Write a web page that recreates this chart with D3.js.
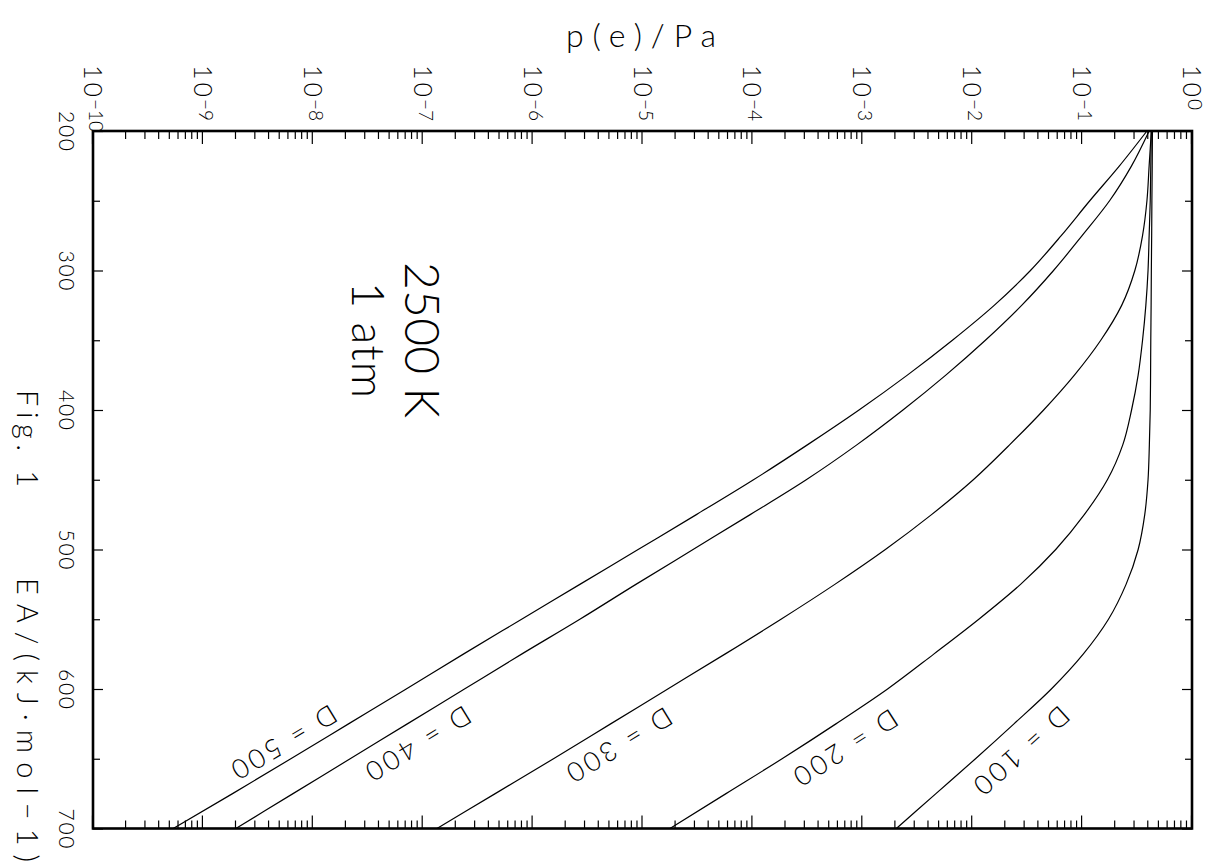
<!DOCTYPE html>
<html>
<head>
<meta charset="utf-8">
<script src="https://cdn.jsdelivr.net/npm/d3@7"></script>
<style>
  body { margin: 0; background: #fff; }
  svg { display: block; }
  text { font-family: Lato, "DejaVu Sans", sans-serif; font-weight: 300; fill: #000; }
</style>
</head>
<body>
<svg id="chart" width="1215" height="866"></svg>
<script>
// values: EA in kJ/mol, log10 of p(e)/Pa
var eaValues = [200,225,250,275,300,325,350,375,400,425,450,475,500,525,550,575,600,625,650,675,700];
var logP100 = [-0.36,-0.362,-0.365,-0.367,-0.37,-0.372,-0.375,-0.377,-0.38,-0.388,-0.40,-0.43,-0.49,-0.60,-0.76,-0.99,-1.28,-1.62,-1.97,-2.33,-2.69];
var logP200 = [-0.37,-0.375,-0.38,-0.39,-0.40,-0.42,-0.45,-0.49,-0.55,-0.63,-0.77,-0.98,-1.24,-1.56,-1.94,-2.35,-2.77,-3.24,-3.73,-4.24,-4.75];
var logP300 = [-0.37,-0.39,-0.41,-0.45,-0.52,-0.64,-0.83,-1.07,-1.35,-1.66,-1.99,-2.37,-2.79,-3.25,-3.74,-4.25,-4.77,-5.29,-5.81,-6.34,-6.87];
var logP400 = [-0.39,-0.55,-0.75,-1.00,-1.26,-1.55,-1.88,-2.24,-2.63,-3.05,-3.51,-4.02,-4.54,-5.06,-5.57,-6.10,-6.62,-7.14,-7.66,-8.18,-8.70];
var logP500 = [-0.41,-0.66,-0.93,-1.19,-1.47,-1.80,-2.18,-2.59,-3.03,-3.50,-3.99,-4.51,-5.04,-5.57,-6.10,-6.63,-7.15,-7.675,-8.20,-8.73,-9.27];

var seriesNames = ["D = 100", "D = 200", "D = 300", "D = 400", "D = 500"];
var seriesValues = [logP100, logP200, logP300, logP400, logP500];
// where each curve label sits (EA, log10 p)
var labelEA = [644, 642, 640, 639, 638];
var labelLogP = [-1.55, -3.15, -5.21, -7.04, -8.26];

var eaTicks = [200, 300, 400, 500, 600, 700];
var eaMinorTicks = [250, 350, 450, 550, 650];
var decadeExps = [-10,-9,-8,-7,-6,-5,-4,-3,-2,-1,0];

// plot box on the page (the whole chart is turned 90 deg clockwise)
var boxLeft = 93, boxRight = 1192, boxTop = 131, boxBottom = 828.5;
var W = boxBottom - boxTop;   // EA runs down the page
var H = boxRight - boxLeft;   // p(e) runs across

var svg = d3.select("#chart");

var x = d3.scaleLinear().domain([200, 700]).range([0, W]);
var y = d3.scaleLog().domain([1e-10, 1]).range([H, 0]);

var g = svg.append("g")
  .attr("transform", "translate(" + boxRight + "," + boxTop + ") rotate(90)");

// minor log ticks
var minorP = [];
decadeExps.slice(0, -1).forEach(function(k) {
  for (var m = 2; m <= 9; m++) minorP.push(m * Math.pow(10, k));
});
var majorP = decadeExps.map(function(k) { return Math.pow(10, k); });

function styleAxis(sel) {
  sel.select(".domain").remove();
  sel.selectAll("line").attr("stroke", "#000").attr("stroke-width", 1.2);
}

// EA axis, page left side (local bottom)
g.append("g").attr("transform", "translate(0," + H + ")")
  .call(d3.axisBottom(x).tickValues(eaTicks).tickSize(-10).tickFormat(""))
  .call(styleAxis);
g.append("g").attr("transform", "translate(0," + H + ")")
  .call(d3.axisBottom(x).tickValues(eaMinorTicks).tickSize(-7).tickFormat(""))
  .call(styleAxis);
// EA axis, page right side (local top)
g.append("g")
  .call(d3.axisTop(x).tickValues(eaTicks).tickSize(-10).tickFormat(""))
  .call(styleAxis);
g.append("g")
  .call(d3.axisTop(x).tickValues(eaMinorTicks).tickSize(-7).tickFormat(""))
  .call(styleAxis);

// p axis, page top (local left)
g.append("g")
  .call(d3.axisLeft(y).tickValues(majorP).tickSize(-13).tickFormat(""))
  .call(styleAxis);
g.append("g")
  .call(d3.axisLeft(y).tickValues(minorP).tickSize(-8).tickFormat(""))
  .call(styleAxis);
// p axis, page bottom (local right)
g.append("g").attr("transform", "translate(" + W + ",0)")
  .call(d3.axisRight(y).tickValues(majorP).tickSize(-13).tickFormat(""))
  .call(styleAxis);
g.append("g").attr("transform", "translate(" + W + ",0)")
  .call(d3.axisRight(y).tickValues(minorP).tickSize(-8).tickFormat(""))
  .call(styleAxis);

// frame
g.append("rect")
  .attr("x", 0).attr("y", 0).attr("width", W).attr("height", H)
  .attr("fill", "none").attr("stroke", "#000").attr("stroke-width", 2.6);

// EA tick labels
g.selectAll(".eaLabel").data(eaTicks).enter().append("text")
  .attr("class", "eaLabel")
  .attr("x", function(d) { return x(d); })
  .attr("y", H + 34)
  .attr("text-anchor", "middle")
  .attr("textLength", 40).attr("lengthAdjust", "spacing")
  .style("font-size", "21px")
  .text(function(d) { return d; });

// decade labels 10^k
var decLab = g.selectAll(".decLabel").data(decadeExps).enter().append("text")
  .attr("class", "decLabel")
  .attr("x", -66)
  .attr("y", function(d) { return y(Math.pow(10, d)) + 9; })
  .style("font-size", "25px");
decLab.append("tspan").text("1");
decLab.append("tspan").attr("dx", 3).text("0");
decLab.append("tspan")
  .attr("dx", 2)
  .attr("dy", -5)
  .style("font-size", "19px")
  .text(function(d) { return d < 0 ? "\u2212" + (-d) : "" + d; });

// curves
var line = d3.line()
  .x(function(d) { return x(d[0]); })
  .y(function(d) { return y(Math.pow(10, d[1])); })
  .curve(d3.curveMonotoneX);

seriesValues.forEach(function(vals, i) {
  var pts = eaValues.map(function(ea, j) { return [ea, vals[j]]; });
  g.append("path")
    .attr("d", line(pts))
    .attr("fill", "none")
    .attr("stroke", "#000")
    .attr("stroke-width", 1.2);
});

function valueAt(vals, ea) {
  for (var j = 0; j < eaValues.length - 1; j++) {
    if (ea <= eaValues[j + 1]) {
      var t = (ea - eaValues[j]) / (eaValues[j + 1] - eaValues[j]);
      return vals[j] + t * (vals[j + 1] - vals[j]);
    }
  }
  return vals[vals.length - 1];
}

// curve labels, turned along their curve
seriesNames.forEach(function(name, i) {
  var ea = labelEA[i];
  var x1 = x(ea - 20), y1 = y(Math.pow(10, valueAt(seriesValues[i], ea - 20)));
  var x2 = x(ea + 20), y2 = y(Math.pow(10, valueAt(seriesValues[i], ea + 20)));
  var ang = Math.atan2(y2 - y1, x2 - x1) * 180 / Math.PI;
  var lx = x(ea), ly = y(Math.pow(10, labelLogP[i]));
  g.append("text")
    .attr("transform", "translate(" + lx + "," + ly + ") rotate(" + ang + ")")
    .attr("text-anchor", "middle")
    .attr("dy", "0.35em")
    .attr("textLength", 118)
    .attr("lengthAdjust", "spacing")
    .style("font-size", "27px")
    .text(name);
});

// notes inside the plot
g.append("text")
  .attr("x", 209).attr("y", 787)
  .attr("text-anchor", "middle")
  .attr("textLength", 156).attr("lengthAdjust", "spacing")
  .style("font-size", "48px")
  .text("2500 K");
g.append("text")
  .attr("x", 209).attr("y", 840)
  .attr("text-anchor", "middle")
  .attr("textLength", 116).attr("lengthAdjust", "spacing")
  .style("font-size", "45px")
  .text("1 atm");

// EA axis title and figure number (page left)
g.append("text")
  .attr("x", 259).attr("y", 1175)
  .attr("textLength", 97).attr("lengthAdjust", "spacing")
  .style("font-size", "29px")
  .text("Fig. 1");
g.append("text")
  .attr("x", 447).attr("y", 1175)
  .attr("textLength", 284).attr("lengthAdjust", "spacing")
  .style("font-size", "29px")
  .text("EA/(kJ\u00B7mol\u22121)");

// p axis title (page top)
svg.append("text")
  .attr("x", 641).attr("y", 47)
  .attr("text-anchor", "middle")
  .attr("textLength", 150).attr("lengthAdjust", "spacing")
  .style("font-size", "32px")
  .text("p(e)/Pa");
</script>
</body>
</html>
